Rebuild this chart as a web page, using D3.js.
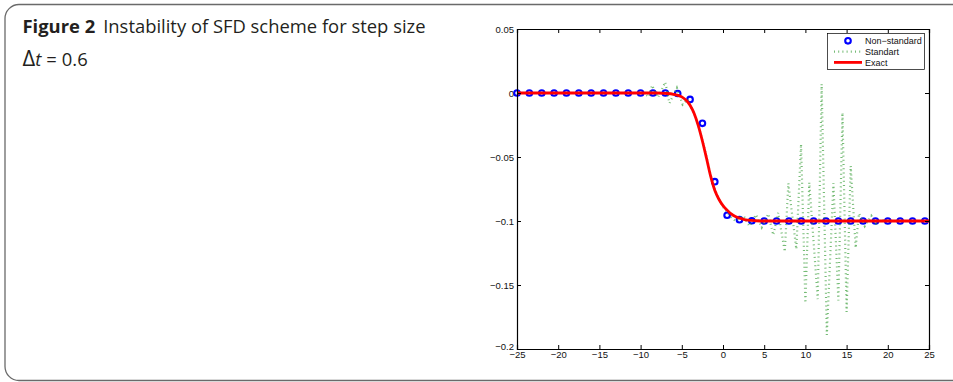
<!DOCTYPE html>
<html><head><meta charset="utf-8">
<script src="https://cdn.jsdelivr.net/npm/d3@7"></script>
<style>
html,body{margin:0;padding:0;background:#fff;}
svg{display:block;}
</style></head><body>
<svg id="chart" width="953" height="382"></svg>
<script>
// Axis ticks
const xTicks = [-25, -20, -15, -10, -5, 0, 5, 10, 15, 20, 25];
const yTicks = [0.05, 0, -0.05, -0.1, -0.15, -0.2];

// Non-standard finite difference solution (markers)
const nonStandardX = [-25, -23.5, -22, -20.5, -19, -17.5, -16, -14.5, -13, -11.5, -10, -8.5, -7,
  -5.5, -4, -2.5, -1, 0.5, 2, 3.5, 5, 6.5, 8, 9.5, 11, 12.5, 14, 15.5, 17, 18.5, 20, 21.5, 23, 24.5];
const nonStandardY = [0, 0, 0, 0, 0, 0, 0, 0, 0, 0, 0, 0, 0,
  -0.0004, -0.005, -0.0237, -0.0693, -0.0955, -0.099, -0.0998, -0.1, -0.1, -0.1, -0.1, -0.1, -0.1,
  -0.1, -0.1, -0.1, -0.1, -0.1, -0.1, -0.1, -0.1];

// Standard finite difference solution (unstable, oscillating)
const standartX = [-25, -9.6, -9.0, -8.6, -7.9, -7.0, -6.5, -5.6, -4.9, -4.3, -3.5, -3, -2.5, -2, -1.5,
  -1, -0.5, 0, 0.5, 1.0, 1.5, 2.5, 3.2, 4.0, 4.7, 5.5, 6.1, 6.7, 7.5, 7.93, 8.9, 9.47, 10.0, 10.47,
  11.5, 11.97, 12.6, 13.4, 14.0, 14.5, 15.0, 15.5, 16.1, 16.5, 17.2, 18.0, 18.6, 19.2, 20, 25];
const standartY = [0, 0, -0.003, 0.006, -0.0035, 0.0085, -0.008, 0.004, -0.009, -0.005, -0.016, -0.025,
  -0.037, -0.05, -0.064, -0.075, -0.083, -0.089, -0.093, -0.097, -0.1, -0.096, -0.104, -0.095, -0.105,
  -0.0945, -0.111, -0.0935, -0.124, -0.0705, -0.122, -0.040, -0.164, -0.070, -0.161, 0.007, -0.189,
  -0.0705, -0.162, -0.0154, -0.171, -0.057, -0.121, -0.094, -0.104, -0.096, -0.102, -0.099, -0.1, -0.1];

// Exact travelling-wave solution
const exactX = [-25, -8, -7, -6, -5, -4.5, -4, -3.5, -3, -2.5, -2, -1.5, -1, -0.5, 0, 0.5, 1, 1.5, 2,
  2.5, 3, 4, 5, 25];
const exactY = [0, 0, -0.0003, -0.001, -0.003, -0.0055, -0.0095, -0.016, -0.0255, -0.0375, -0.051,
  -0.065, -0.076, -0.083, -0.088, -0.0915, -0.0945, -0.0965, -0.0978, -0.0987, -0.0993, -0.0998,
  -0.1, -0.1];

const legendLabels = ["Non\u2212standard", "Standart", "Exact"];

const svg = d3.select("#chart");

// Caption frame
svg.append("rect")
  .attr("x", 5).attr("y", 4.5).attr("width", 1000).attr("height", 376)
  .attr("rx", 14).attr("ry", 14)
  .attr("fill", "none").attr("stroke", "#6a6a6a").attr("stroke-width", 1.3);

// Caption
const capFont = "'Open Sans', 'Noto Sans', sans-serif";
const cap = svg.append("text")
  .attr("x", 22.5).attr("y", 32.5)
  .attr("font-family", capFont)
  .attr("font-size", 18.4).attr("fill", "#231f20");
cap.append("tspan").attr("font-weight", "bold").text("Figure 2");
cap.append("tspan").attr("dx", 8).text("Instability of SFD scheme for step size");
const cap2 = svg.append("text")
  .attr("x", 22.5).attr("y", 66)
  .attr("font-family", capFont)
  .attr("font-size", 18.4).attr("fill", "#231f20");
cap2.append("tspan").attr("font-size", 22).text("\u0394");
cap2.append("tspan").attr("font-style", "italic").text("t");
cap2.append("tspan").attr("dx", 5).text("=");
cap2.append("tspan").attr("dx", 5).text("0.6");

// Plot area
const plotLeft = 517, plotRight = 929, plotTop = 29, plotBottom = 349;
const x = d3.scaleLinear().domain([-25, 25]).range([plotLeft, plotRight]);
const y = d3.scaleLinear().domain([-0.2, 0.05]).range([plotBottom, plotTop]);

const fmt = v => (v === 0 ? "0" : d3.format("")(v)).replace("-", "\u2212");
const tickFont = "'Liberation Sans', Arial, sans-serif";

const plot = svg.append("g");

// Non-standard markers (drawn first, below the other series)
plot.append("g").selectAll("circle")
  .data(nonStandardX.map((v, i) => [v, nonStandardY[i]]))
  .join("circle")
  .attr("cx", d => x(d[0])).attr("cy", d => y(d[1])).attr("r", 2.8)
  .attr("fill", "none").attr("stroke", "#0000ff").attr("stroke-width", 2.1);

// Standard scheme, dotted
const lineGen = d3.line().x(d => x(d[0])).y(d => y(d[1]));
plot.append("path")
  .datum(standartX.map((v, i) => [v, standartY[i]]))
  .attr("d", lineGen)
  .attr("fill", "none").attr("stroke", "#3a9e3a").attr("stroke-opacity", 0.7)
  .attr("stroke-width", 2.2).attr("stroke-dasharray", "1,3.2");

// Exact solution
plot.append("path")
  .datum(exactX.map((v, i) => [v, exactY[i]]))
  .attr("d", d3.line().x(d => x(d[0])).y(d => y(d[1])).curve(d3.curveMonotoneX))
  .attr("fill", "none").attr("stroke", "#ff0000").attr("stroke-width", 2.8);

// Axes (box with inward ticks on all sides)
const axB = d3.axisBottom(x).tickValues(xTicks).tickSize(-4).tickPadding(3).tickFormat(fmt);
const axL = d3.axisLeft(y).tickValues(yTicks).tickSize(-4).tickPadding(3).tickFormat(fmt);
const axT = d3.axisTop(x).tickValues(xTicks).tickSize(-4).tickFormat("");
const axR = d3.axisRight(y).tickValues(yTicks).tickSize(-4).tickFormat("");

function styleAxis(g) {
  g.select(".domain").attr("stroke", "#000").attr("stroke-width", 1.2);
  g.selectAll(".tick line").attr("stroke", "#000").attr("stroke-width", 1);
  g.selectAll(".tick text").attr("font-family", tickFont).attr("font-size", 9.5).attr("fill", "#111");
}
svg.append("g").attr("transform", `translate(0,${plotBottom})`).call(axB).call(styleAxis)
  .selectAll(".tick text").attr("dy", "0.6em");
svg.append("g").attr("transform", `translate(${plotLeft},0)`).call(axL).call(styleAxis)
  .selectAll(".tick text").attr("dy", (d) => d === -0.2 ? "0.1em" : "0.32em");
svg.append("g").attr("transform", `translate(0,${plotTop})`).call(axT).call(styleAxis);
svg.append("g").attr("transform", `translate(${plotRight},0)`).call(axR).call(styleAxis);

// Legend
const lg = svg.append("g");
lg.append("rect").attr("x", 827.5).attr("y", 33.5).attr("width", 97).attr("height", 36)
  .attr("fill", "#fff").attr("stroke", "#000").attr("stroke-width", 0.7);
const rows = [40.8, 51.6, 62.4];
lg.append("circle").attr("cx", 848).attr("cy", rows[0]).attr("r", 2.8)
  .attr("fill", "none").attr("stroke", "#0000ff").attr("stroke-width", 2.1);
lg.append("line").attr("x1", 834).attr("x2", 862).attr("y1", rows[1]).attr("y2", rows[1])
  .attr("stroke", "#3a9e3a").attr("stroke-opacity", 0.7)
  .attr("stroke-width", 2.2).attr("stroke-dasharray", "1,3.2");
lg.append("line").attr("x1", 834).attr("x2", 862).attr("y1", rows[2]).attr("y2", rows[2])
  .attr("stroke", "#ff0000").attr("stroke-width", 2.8);
lg.selectAll("text.lab").data(legendLabels).join("text").attr("class", "lab")
  .attr("x", 865).attr("y", (d, i) => rows[i]).attr("dy", "0.35em")
  .attr("font-family", tickFont).attr("font-size", 9).attr("fill", "#111")
  .text(d => d);
</script>
</body></html>
